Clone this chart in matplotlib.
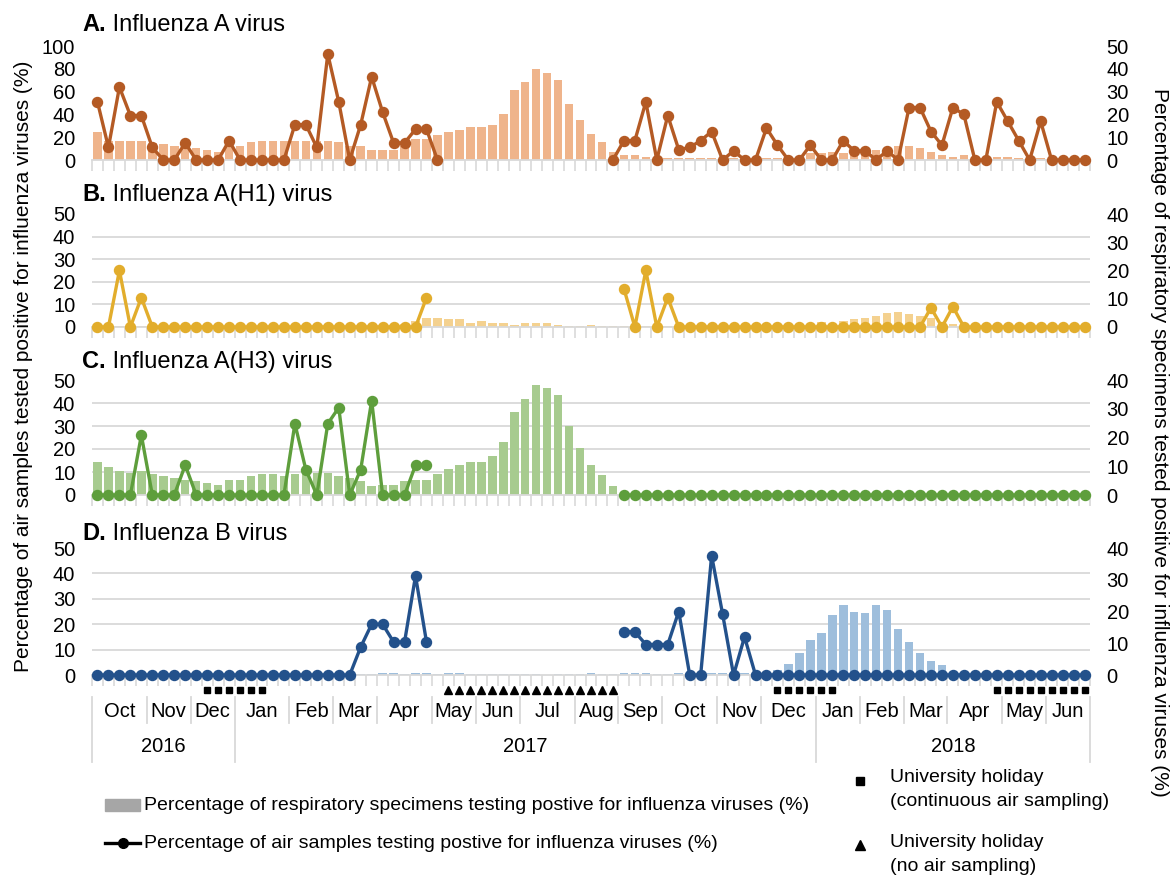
import numpy as np
import matplotlib
matplotlib.use('Agg')
import matplotlib.pyplot as plt
from matplotlib.lines import Line2D
from matplotlib.patches import Rectangle
from matplotlib.transforms import blended_transform_factory

plt.rcParams['font.family'] = ['Liberation Sans', 'DejaVu Sans']

N = None
weeks = np.arange(91)

# ---- Influenza A ----
a_air = ([51, 11, 64, 39, 39, 11, 0, 0, 15, 0, 0, 0, 17, 0, 0, 0, 0, 0, 31, 31, 11, 93, 51, 0,
          31, 73, 42, 15, 15, 27, 27, 0] + [N] * 15 +
         [0, 17, 17, 51, 0, 39, 9, 11, 17, 25, 0, 8, 0, 0, 28, 13, 0, 0, 13, 0, 0, 17, 8, 8, 0, 8,
          0, 46, 46, 25, 13, 46, 40, 0, 0, 51, 34, 17, 0, 34, 0, 0, 0, 0])
a_clin = [12.3, 8.4, 8.4, 8.4, 8.4, 7.3, 6.9, 6.1, 5.4, 5.4, 4.6, 3.7, 6.1, 6.1, 7.7, 8.4, 8.4, 8.4,
          8.4, 8.4, 8.4, 8.4, 7.7, 6.1, 6.1, 4.6, 4.6, 4.6, 6.1, 9.3, 9.3, 10.9, 12.3, 13.0, 14.6,
          14.6, 15.4, 20.0, 30.7, 34.4, 40.0, 38.3, 35.3, 24.6, 17.4, 11.4, 7.7, 3.6, 2.3, 2.3, 1.3,
          0.5, 0.7, 0.7, 0.7, 0.7, 0.7, 0.5, 0.7, 0.3, 0.5, 0.7, 0.7, 0.5, 0.7, 3.1, 3.1, 3.6, 3.1,
          4.6, 3.9, 4.3, 4.6, 6.0, 6.3, 5.3, 3.6, 2.3, 1.3, 2.3, 0.5, 0.5, 1.3, 1.3, 0.7, 0.5, 0.7,
          0.3, 0.3, 0.3, 0.3]

# ---- Influenza A(H1) ----
b_air = ([0, 0, 25, 0, 13] + [0] * 25 + [13] + [N] * 17 +
         [17, 0, 25, 0, 13] + [0] * 23 + [8.5, 0, 9] + [0] * 12)
b_clin = ([0, 0, 0.5, 0, 0.5] + [0] * 21 +
          [0.3, 0.6, 1.2, 2.3, 3.3, 3.3, 2.7, 2.7, 1.3, 2.0, 1.3, 1.3, 0.7, 1.3, 1.3, 1.3, 0.7, 0.3,
           0.3, 0.7, 0.3, 0.3] + [0.2] * 13 +
          [0.4, 0.6, 0.9, 1.2, 1.2, 1.9, 1.2, 2.1, 2.7, 3.3, 3.9, 5.0, 5.3, 4.7, 3.9, 3.3, 1.0, 1.0,
           0.6, 0.4] + [0.2] * 10)

# ---- Influenza A(H3) ----
c_air = ([0, 0, 0, 0, 26, 0, 0, 0, 13, 0, 0, 0, 0, 0, 0, 0, 0, 0, 31, 11, 0, 31, 38, 0, 11, 41, 0,
          0, 0, 13, 13] + [N] * 17 + [0] * 43)
c_clin = ([11.5, 9.8, 8.3, 7.8, 8.3, 7.2, 6.6, 5.9, 5.3, 4.7, 4.1, 3.5, 5.3, 5.3, 6.6, 7.2, 7.2, 6.6,
           7.2, 7.8, 7.8, 7.8, 6.6, 5.9, 4.7, 3.0, 3.5, 3.5, 4.7, 5.3, 5.3, 7.2, 9.0, 10.3, 11.5,
           11.5, 13.5, 18.3, 29.0, 33.3, 38.3, 37.2, 34.7, 23.9, 16.5, 10.4, 6.9, 3.1] + [0] * 43)

# ---- Influenza B ----
d_air = ([0] * 24 + [11, 20, 20, 13, 13, 39, 13] + [N] * 17 +
         [17, 17, 12, 12, 12, 25, 0, 0, 47, 24, 0, 15, 0] + [0] * 30)
d_clin = ([0] * 24 +
          [0.3, 0.3, 0.7, 0.7, 0.3, 0.7, 0.7, 0.3, 0.7, 0.7, 0.3, 0.3, 0.3, 0.3, 0.3, 0.3, 0.3, 0,
           0.3, 0.3, 0.3, 0.7, 0.3, 0.3, 0.7, 0.7, 0.7, 0.3, 0.3, 0.7, 0.7, 0.7, 0.7, 0.7, 0.7, 0.7,
           0.7, 0.9, 1.6, 3.5, 6.9, 10.9, 13.1, 18.8, 22.1, 19.9, 19.4, 22.1, 20.5, 14.4, 10.3, 6.9,
           4.3, 3.2] + [0] * 13)

months = ['Oct', 'Nov', 'Dec', 'Jan', 'Feb', 'Mar', 'Apr', 'May', 'Jun', 'Jul', 'Aug', 'Sep',
          'Oct', 'Nov', 'Dec', 'Jan', 'Feb', 'Mar', 'Apr', 'May', 'Jun']
month_starts = [0, 5, 9, 13, 18, 22, 26, 31, 35, 39, 44, 48, 52, 57, 61, 66, 70, 74, 78, 83, 87, 91]
years = ['2016', '2017', '2018']
year_starts = [0, 13, 66, 91]
holiday_sampling = list(range(10, 16)) + list(range(62, 68)) + list(range(82, 91))
holiday_no_sampling = list(range(32, 48))

panel_titles = [('A.', ' Influenza A virus'), ('B.', ' Influenza A(H1) virus'),
                ('C.', ' Influenza A(H3) virus'), ('D.', ' Influenza B virus')]

# ---- layout / style ----
W, H = 1170, 880
fig = plt.figure(figsize=(W / 100, H / 100), dpi=100)


def fx(px):
    return px / W


def fy(py):
    return 1 - py / H


GRID = '#d9d9d9'
FS = 14.5
specs = [
    dict(air=a_air, clin=a_clin, lc='#B45A24', bc='#EFB48B', lmax=100, lstep=20, rmax=50, rstep=10,
         top=46, bot=160, ty=31),
    dict(air=b_air, clin=b_clin, lc='#E2AD2C', bc='#F4D18F', lmax=50, lstep=10, rmax=40, rstep=10,
         top=214, bot=327, ty=201),
    dict(air=c_air, clin=c_clin, lc='#5E9E3C', bc='#A7CB8F', lmax=50, lstep=10, rmax=40, rstep=10,
         top=380, bot=495, ty=368),
    dict(air=d_air, clin=d_clin, lc='#23518B', bc='#9EBEDC', lmax=50, lstep=10, rmax=40, rstep=10,
         top=548, bot=675, ty=540),
]

X0, X1 = 92, 1090
axes = []
for sp, (tb, tt) in zip(specs, panel_titles):
    ax = fig.add_axes([fx(X0), fy(sp['bot']), fx(X1) - fx(X0), (sp['bot'] - sp['top']) / H])
    ax.bar(weeks, sp['clin'], width=0.78, color=sp['bc'], zorder=2)
    ax.set_xlim(-0.5, 90.5)
    ax.set_ylim(0, sp['rmax'])
    ax.set_xticks(np.arange(-0.5, 91, 1))
    ax.set_xticklabels([])
    ax.tick_params(axis='x', length=8, width=1.2, color=GRID)
    for s in ['top', 'left', 'right']:
        ax.spines[s].set_visible(False)
    ax.spines['bottom'].set_color(GRID)
    ax.spines['bottom'].set_linewidth(1.3)

    ax2 = ax.twinx()
    ax2.set_ylim(0, sp['lmax'])
    ax2.set_yticks(np.arange(0, sp['lmax'] + 1, sp['lstep']))
    ax2.yaxis.tick_left()
    ax2.tick_params(axis='y', length=0, labelsize=FS, pad=12)
    for s in ax2.spines.values():
        s.set_visible(False)
    ax2.plot(weeks, np.array(sp['air'], dtype=float), '-o', color=sp['lc'], lw=2.4, ms=7.2,
             clip_on=False, zorder=3)

    # right axis (clinical specimens) -- set after twinx, which resets tick sides
    ax.yaxis.tick_right()
    ax.set_yticks(np.arange(0, sp['rmax'] + 1, sp['rstep']))
    grid_pos = np.arange(0, sp['lmax'] + 1, sp['lstep']) * sp['rmax'] / sp['lmax']
    ax.set_yticks(grid_pos, minor=True)
    ax.tick_params(axis='y', which='both', length=0, labelsize=FS, pad=12,
                   left=False, labelleft=False, right=True, labelright=True)
    ax.tick_params(axis='y', which='minor', labelright=False)
    ax.grid(which='minor', axis='y', color=GRID, lw=1.3, zorder=0)
    ax.grid(which='major', axis='y', visible=False)
    ax.set_axisbelow(True)

    t1 = fig.text(fx(82), fy(sp['ty']), tb, weight='bold', size=17, va='baseline', ha='left')
    ax2.annotate(tt, xy=(1, 0), xycoords=t1, va='bottom', ha='left', size=17,
                 annotation_clip=False)
    axes.append(ax)

axD = axes[-1]
trans = blended_transform_factory(axD.transData, fig.transFigure)

# holiday markers
axD.plot(holiday_sampling, [fy(690)] * len(holiday_sampling), 's', color='black', ms=5,
         transform=trans, clip_on=False)
axD.plot(holiday_no_sampling, [fy(690)] * len(holiday_no_sampling), '^', color='black', ms=5.5,
         transform=trans, clip_on=False)

# month / year category axis
for i, m in enumerate(months):
    s, e = month_starts[i], month_starts[i + 1]
    axD.text((s + e - 1) / 2, fy(711), m, transform=trans, ha='center', va='center', size=FS)
for b in month_starts:
    if b in year_starts:
        continue
    fig.add_artist(Line2D([b - 0.5, b - 0.5], [fy(697), fy(723)], transform=trans, color=GRID,
                          lw=1.3))
for i, y in enumerate(years):
    s, e = year_starts[i], year_starts[i + 1]
    axD.text((s + e - 1) / 2, fy(746), y, transform=trans, ha='center', va='center', size=FS)
for b in year_starts:
    fig.add_artist(Line2D([b - 0.5, b - 0.5], [fy(697), fy(762)], transform=trans, color=GRID,
                          lw=1.3))

# axis titles
fig.text(fx(24), fy(366), 'Percentage of air samples tested positive for influenza viruses (%)',
         rotation=90, ha='center', va='center', size=15)
fig.text(fx(1160), fy(442),
         'Percentage of respiratory specimens tested positive for influenza viruses (%)',
         rotation=270, ha='center', va='center', size=15)

# legend
LFS = 14
fig.add_artist(Rectangle((fx(105), fy(811)), fx(140) - fx(105), 12 / H, color='#a6a6a6',
                         transform=fig.transFigure))
fig.text(fx(144), fy(805), 'Percentage of respiratory specimens testing postive for influenza viruses (%)',
         ha='left', va='center', size=LFS)
fig.add_artist(Line2D([fx(105), fx(140)], [fy(843), fy(843)], color='black', lw=2.4,
                      transform=fig.transFigure))
fig.add_artist(Line2D([fx(122.5)], [fy(843)], marker='o', ms=7, color='black',
                      transform=fig.transFigure))
fig.text(fx(144), fy(843), 'Percentage of air samples testing postive for influenza viruses (%)',
         ha='left', va='center', size=LFS)

fig.add_artist(Line2D([fx(860)], [fy(781)], marker='s', ms=6, color='black', lw=0,
                      transform=fig.transFigure))
fig.text(fx(890), fy(777), 'University holiday', ha='left', va='center', size=LFS)
fig.text(fx(890), fy(801), '(continuous air sampling)', ha='left', va='center', size=LFS)
fig.add_artist(Line2D([fx(860)], [fy(845)], marker='^', ms=7, color='black', lw=0,
                      transform=fig.transFigure))
fig.text(fx(890), fy(842), 'University holiday', ha='left', va='center', size=LFS)
fig.text(fx(890), fy(866), '(no air sampling)', ha='left', va='center', size=LFS)

fig.savefig('out.png', dpi=100)
